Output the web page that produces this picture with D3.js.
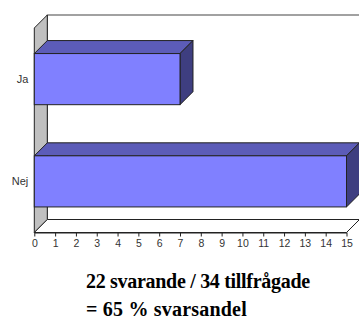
<!DOCTYPE html>
<html><head><meta charset="utf-8"><script src="https://cdn.jsdelivr.net/npm/d3@7"></script></head>
<body style="margin:0">
<svg id="chart" width="359" height="320"></svg>
<script>
const categories = ["Ja", "Nej"];
const values = [7, 15];
const xTicks = [0,1,2,3,4,5,6,7,8,9,10,11,12,13,14,15];
const noteLines = ["22 svarande / 34 tillfrågade", "= 65 % svarsandel"];

(function () {
const svg = d3.select("#chart");
const depth = 13;
const pLeft = 34.3, pRight = 346.5, pTop = 28, pBottom = 232.5;

const x = d3.scaleLinear().domain([0, 15]).range([pLeft, pRight]);
const y = d3.scaleBand().domain(categories).range([pTop, pBottom])
  .paddingInner(0.5).paddingOuter(0.25);

const stroke = "#222";

svg.append("rect")
  .attr("x", pLeft + depth).attr("y", pTop - depth)
  .attr("width", pRight - pLeft + 2).attr("height", pBottom - pTop)
  .attr("fill", "#fff").attr("stroke", "#444").attr("stroke-width", 1);

svg.append("path")
  .attr("d", `M${pLeft},${pTop} L${pLeft+depth},${pTop-depth} L${pLeft+depth},${pBottom-depth} L${pLeft},${pBottom} Z`)
  .attr("fill", "#c0c0c0").attr("stroke", stroke).attr("stroke-width", 1);

svg.append("path")
  .attr("d", `M${pLeft},${pBottom} L${pLeft+depth},${pBottom-depth} L${pRight+depth},${pBottom-depth} L${pRight},${pBottom} Z`)
  .attr("fill", "#fff").attr("stroke", stroke).attr("stroke-width", 1);

const bars = svg.append("g").selectAll("g").data(categories).enter().append("g");
bars.each(function(c, i) {
  const g = d3.select(this);
  const x0 = x(0), x1 = x(values[i]);
  const y0 = y(c), y1 = y(c) + y.bandwidth();
  g.append("path")
    .attr("d", `M${x0},${y0} L${x0+depth},${y0-depth} L${x1+depth},${y0-depth} L${x1},${y0} Z`)
    .attr("fill", "#5c5cb8").attr("stroke", stroke).attr("stroke-width", 1);
  g.append("path")
    .attr("d", `M${x1},${y0} L${x1+depth},${y0-depth} L${x1+depth},${y1-depth} L${x1},${y1} Z`)
    .attr("fill", "#3e3e80").attr("stroke", stroke).attr("stroke-width", 1);
  g.append("rect")
    .attr("x", x0).attr("y", y0).attr("width", x1 - x0).attr("height", y1 - y0)
    .attr("fill", "#8080ff").attr("stroke", stroke).attr("stroke-width", 1);
});

const xAxis = d3.axisBottom(x).tickValues(xTicks).tickSize(4).tickPadding(3).tickSizeOuter(0);
const gx = svg.append("g").attr("transform", `translate(0,${pBottom})`).call(xAxis);
gx.attr("font-family", null).attr("font-size", null);
gx.select(".domain").attr("stroke", stroke);
gx.selectAll(".tick line").attr("stroke", stroke);
gx.selectAll("text").style("font-family", "'Liberation Sans'").style("font-size", "10.5px").attr("fill", "#333");

const yAxis = d3.axisLeft(y).tickSize(0).tickPadding(6);
const gy = svg.append("g").attr("transform", `translate(${pLeft},0)`).call(yAxis);
gy.attr("font-family", null).attr("font-size", null);
gy.select(".domain").remove();
gy.selectAll("text").style("font-family", "'Liberation Sans'").style("font-size", "11px").attr("fill", "#333");

const noteBaselines = [288, 316];
const noteSpacing = ["-0.3px", "0.2px"];
noteLines.forEach((t, i) => {
  svg.append("text")
    .attr("x", 86).attr("y", noteBaselines[i])
    .style("font-family", "'Liberation Serif'").style("font-weight", "bold").style("font-size", "20px")
    .style("letter-spacing", noteSpacing[i])
    .text(t);
});
})();
</script>
</body>
</html>
